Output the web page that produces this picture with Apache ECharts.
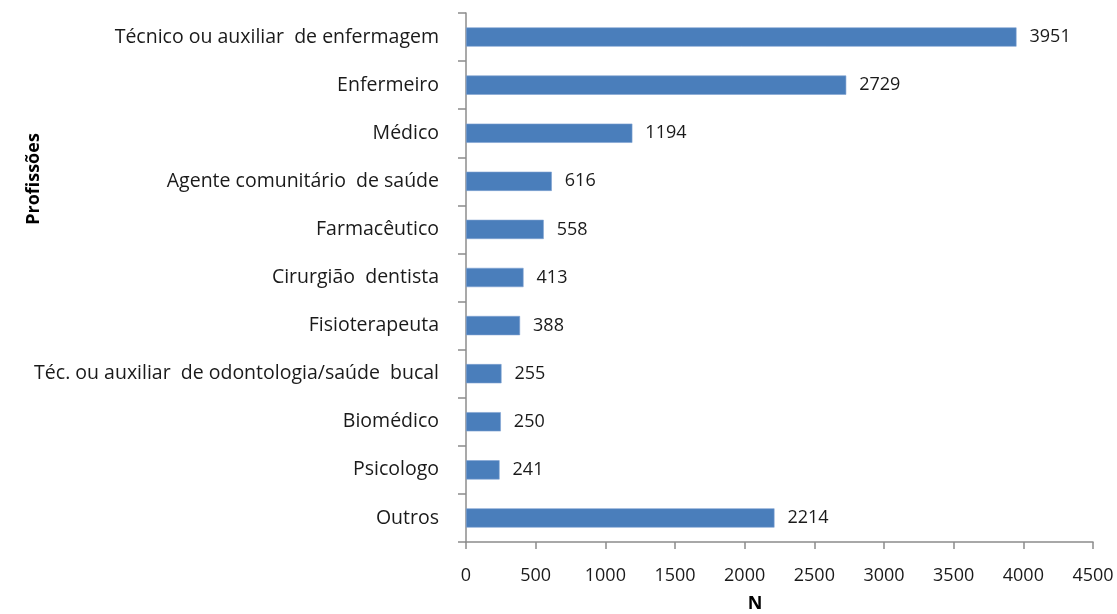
<!DOCTYPE html>
<html>
<head>
<meta charset="utf-8">
<script src="https://cdn.jsdelivr.net/npm/echarts@6/dist/echarts.min.js"></script>
<style>
html, body { margin: 0; padding: 0; background: #fff; }
#chart { width: 1117px; height: 614px; }
</style>
</head>
<body>
<div id="chart"></div>
<script>
var categories = [
    "Técnico ou auxiliar  de enfermagem",
    "Enfermeiro",
    "Médico",
    "Agente comunitário  de saúde",
    "Farmacêutico",
    "Cirurgião  dentista",
    "Fisioterapeuta",
    "Téc. ou auxiliar  de odontologia/saúde  bucal",
    "Biomédico",
    "Psicologo",
    "Outros"
];
var values = [3951, 2729, 1194, 616, 558, 413, 388, 255, 250, 241, 2214];
var xTicks = { min: 0, max: 4500, interval: 500 };
var xTitle = "N";
var yTitle = "Profissões";

var font = "'Open Sans', 'Noto Sans', sans-serif";
var axisGray = "#8c8c8c";

var option = {
    animation: false,
    textStyle: { fontFamily: font },
    grid: {
        left: 466,
        right: 24,
        top: 13,
        bottom: 72,
        outerBoundsMode: "none",
        containLabel: false
    },
    graphic: [{
        type: "text",
        x: 755,
        y: 604,
        style: {
            text: xTitle,
            font: "bold 18px " + font,
            fill: "#000",
            align: "center",
            verticalAlign: "middle"
        }
    }, {
        type: "text",
        x: 34,
        y: 179,
        rotation: Math.PI / 2,
        style: {
            text: yTitle,
            font: "bold 18px " + font,
            fill: "#000",
            align: "center",
            verticalAlign: "middle"
        }
    }],
    xAxis: {
        type: "value",
        min: xTicks.min,
        max: xTicks.max,
        interval: xTicks.interval,
        axisLine: { show: true, lineStyle: { color: axisGray, width: 1.5 } },
        axisTick: { show: true, length: 7, lineStyle: { color: axisGray, width: 1.5 } },
        axisLabel: {
            color: "#1a1a1a",
            fontSize: 18,
            margin: 25,
            fontFamily: font,
            formatter: function (v) { return String(v); }
        },
        splitLine: { show: false }
    },
    yAxis: {
        type: "category",
        inverse: true,
        data: categories,
        axisLine: { show: true, lineStyle: { color: axisGray, width: 1.5 } },
        axisTick: { show: true, length: 8, lineStyle: { color: axisGray, width: 1.5 } },
        axisLabel: { color: "#1a1a1a", fontSize: 19.5, margin: 27, fontFamily: font }
    },
    series: [{
        type: "bar",
        data: values,
        barCategoryGap: "60%",
        itemStyle: { color: "#4a7ebb", borderColor: "#7fa3d1", borderWidth: 0.6 },
        label: {
            show: true,
            position: "right",
            distance: 13,
            color: "#1a1a1a",
            fontSize: 18,
            fontFamily: font
        }
    }]
};

echarts.init(document.getElementById("chart")).setOption(option);
</script>
</body>
</html>
